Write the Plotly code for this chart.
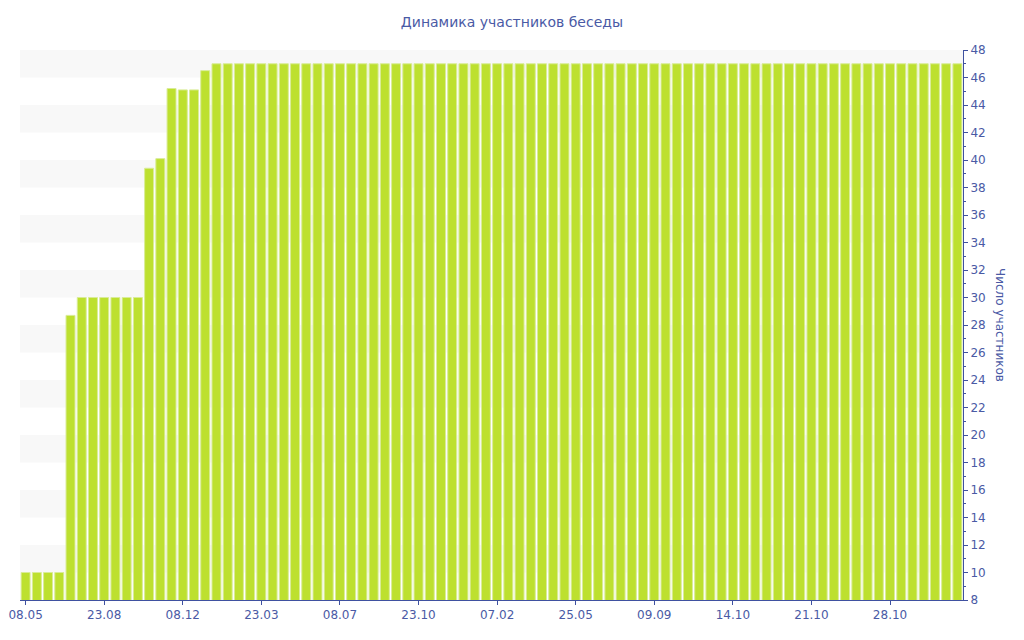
import plotly.graph_objects as go

tick_labels = ["08.05", "23.08", "08.12", "23.03", "08.07", "23.10",
               "07.02", "25.05", "09.09", "14.10", "21.10", "28.10"]
label_step = 7

members = ([10, 10, 10, 10, 28.7, 30, 30, 30, 30, 30, 30,
            39.4, 40.1, 45.2, 45.1, 45.1, 46.5] + [47] * 67)
positions = list(range(len(members)))

title_text = "Динамика участников беседы"
y_title = "Число участников"

axis_color = "#3f51a0"
text_color = "#4a5aa5"
bar_color = "#bde02f"

fig = go.Figure()
fig.add_trace(go.Bar(
    x=positions, y=members,
    marker=dict(color=bar_color, line=dict(color="#d9ec97", width=1)),
    hoverinfo="y",
))

shapes = []
for lo in range(10, 48, 4):
    shapes.append(dict(type="rect", xref="paper", yref="y", x0=0, x1=1,
                       y0=lo, y1=lo + 2, fillcolor="#f8f8f8",
                       line=dict(width=0), layer="below"))

fig.update_layout(
    width=1016, height=632,
    margin=dict(l=12, r=61, t=42, b=40),
    paper_bgcolor="white", plot_bgcolor="white",
    bargap=0.2,
    showlegend=False,
    font=dict(family="DejaVu Sans, Verdana, sans-serif", color=text_color, size=12),
    title=dict(text=title_text, x=0.496, xanchor="center", xref="container",
               y=1 - 14 / 632, yanchor="middle", yref="container",
               font=dict(size=14, color=text_color)),
    shapes=shapes,
    xaxis=dict(
        range=[-0.5, len(members) - 0.5],
        tickmode="array",
        tickvals=positions[::label_step],
        ticktext=tick_labels,
        showgrid=False, zeroline=False, automargin=False,
        showline=True, linecolor=axis_color, linewidth=1,
        ticks="outside", ticklen=4, tickcolor=axis_color,
        tickfont=dict(size=12, color=text_color),
    ),
    yaxis=dict(
        side="right",
        range=[8, 48], dtick=2, tick0=8,
        showgrid=False, zeroline=False, automargin=False,
        showline=True, linecolor=axis_color, linewidth=1,
        ticks="outside", ticklen=4, tickcolor=axis_color,
        minor=dict(dtick=1, ticks="outside", ticklen=2, tickcolor=axis_color),
        tickfont=dict(size=12, color=text_color),
    ),
    annotations=[dict(text=y_title, xref="paper", yref="paper", x=1.0, xshift=37,
                      xanchor="center", yanchor="middle",
                      y=0.5, textangle=90, showarrow=False,
                      font=dict(size=12, color=text_color))],
)

fig.write_html("out.html")
